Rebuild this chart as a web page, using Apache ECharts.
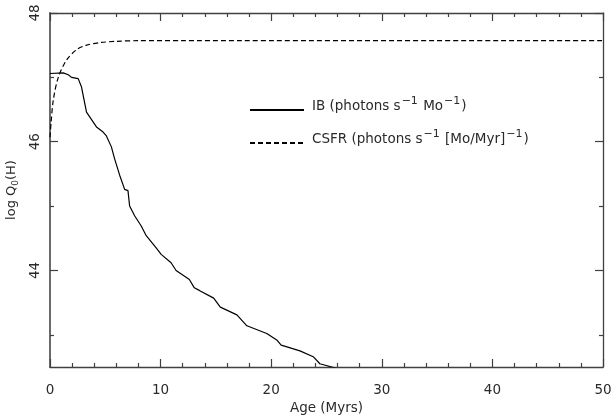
<!DOCTYPE html>
<html>
<head>
<meta charset="utf-8">
<script src="https://cdn.jsdelivr.net/npm/echarts@6/dist/echarts.min.js"></script>
<style>
html,body{margin:0;padding:0;background:#fff;}
#chart{width:613px;height:416px;}
</style>
</head>
<body>
<div id="chart"></div>
<script>
// Data
const ibAge = [0, 1.2, 1.65, 1.95, 2.55, 2.85, 3.3, 4.2, 4.8, 5.1, 5.55, 5.85, 6.3, 6.75, 7.05, 7.2, 7.65, 8.25, 8.7, 9.6, 10.05, 10.95, 11.4, 12.6, 13.05, 13.5, 14.8, 15.4, 16.9, 17.8, 19.6, 20.5, 20.9, 22.6, 23.8, 24.4, 25.9];
const ibLogQ = [47.06, 47.07, 47.04, 47.0, 46.98, 46.85, 46.46, 46.23, 46.15, 46.09, 45.92, 45.73, 45.48, 45.26, 45.24, 45.0, 44.85, 44.69, 44.54, 44.35, 44.25, 44.12, 44.0, 43.86, 43.73, 43.69, 43.57, 43.43, 43.31, 43.14, 43.02, 42.92, 42.84, 42.75, 42.66, 42.55, 42.48];
const csfrAge = [0, 0.1, 0.3, 0.75, 1.5, 2.4, 3.3, 4.5, 6, 8, 12, 50];
const csfrLogQ = [46.07, 46.3, 46.65, 47.0, 47.27, 47.43, 47.5, 47.54, 47.56, 47.57, 47.57, 47.57];
const yMajorTicks = [44, 46, 48];
const yMinorTicks = [43, 45, 47];
const seriesNames = ['IB', 'CSFR'];

const FONT = 'DejaVu Sans';
const axisColor = '#404040';
const textColor = '#2a2a2a';

function zip(a, b) { return a.map((v, i) => [v, b[i]]); }

const chart = echarts.init(document.getElementById('chart'));

function yAx(position, ticks, len, labels, showLine) {
  return {
    type: 'value', position: position, min: 42.5, max: 48,
    axisLine: { show: showLine, lineStyle: { color: position === 'left' ? '#6a6a6a' : axisColor, width: position === 'left' ? 2 : 1.3 } },
    axisTick: { show: true, inside: true, length: len, customValues: ticks, lineStyle: { color: axisColor, width: 1.2 } },
    axisLabel: labels ? { show: true, customValues: ticks, rotate: 90, margin: 8, fontFamily: FONT, fontSize: 13.5, color: textColor } : { show: false },
    splitLine: { show: false },
    name: labels ? '{n|log Q}{sub|0}{n|(H)}' : '',
    nameLocation: 'middle', nameGap: 28, nameRotate: 90,
    nameTextStyle: { rich: { n: { fontFamily: FONT, fontSize: 13, color: textColor }, sub: { fontFamily: FONT, fontSize: 9, color: textColor, padding: [8, 0, 0, 0] } } }
  };
}

function xAx(position, labels) {
  return {
    type: 'value', position: position, min: 0, max: 50, interval: 10,
    axisLine: { show: true, lineStyle: { color: axisColor, width: 1.3 } },
    axisTick: { show: true, inside: true, length: 8, lineStyle: { color: axisColor, width: 1.2 } },
    minorTick: { show: true, splitNumber: 5, length: 4, lineStyle: { color: axisColor, width: 1.2 } },
    axisLabel: labels ? { show: true, margin: 16, fontFamily: FONT, fontSize: 13.5, color: textColor } : { show: false },
    splitLine: { show: false }, minorSplitLine: { show: false },
    name: labels ? 'Age (Myrs)' : '', nameLocation: 'middle', nameGap: 33,
    nameTextStyle: { fontFamily: FONT, fontSize: 13.5, color: textColor }
  };
}

const option = {
  backgroundColor: '#fff',
  animation: false,
  grid: { left: 50, right: 10, top: 13, bottom: 49, containLabel: false, outerBoundsMode: 'none' },
  xAxis: [xAx('bottom', true), xAx('top', false)],
  yAxis: [
    yAx('left', yMajorTicks, 8, true, true),
    yAx('left', yMinorTicks, 4, false, false),
    yAx('right', yMajorTicks, 8, false, true),
    yAx('right', yMinorTicks, 4, false, false)
  ],
  legend: {
    orient: 'vertical', left: 249, top: 96, padding: 0,
    itemWidth: 54, itemHeight: 10, itemGap: 15,
    data: seriesNames,
    itemStyle: { opacity: 0 },
    formatter: function (name) {
      if (name === 'IB') return '{t|IB (photons s}{sup|−1}{t| Mo}{sup|−1}{t|)}';
      return '{t|CSFR (photons s}{sup|−1}{t| [Mo/Myr]}{sup|−1}{t|)}';
    },
    textStyle: {
      padding: [0, 0, 8, 3],
      rich: {
        t: { fontFamily: FONT, fontSize: 13.5, color: textColor },
        sup: { fontFamily: FONT, fontSize: 11, color: textColor, padding: [0, 1, 9, 1] }
      }
    }
  },
  series: [
    {
      name: seriesNames[0], type: 'line', xAxisIndex: 0, yAxisIndex: 0,
      data: zip(ibAge, ibLogQ), showSymbol: false, symbol: 'none',
      lineStyle: { color: '#000', width: 1.2, type: 'solid' }, itemStyle: { color: '#000' }, clip: true
    },
    {
      name: seriesNames[1], type: 'line', xAxisIndex: 0, yAxisIndex: 0,
      data: zip(csfrAge, csfrLogQ), showSymbol: false, symbol: 'none', smooth: 0.3,
      lineStyle: { color: '#000', width: 1.2, type: [5, 3] }, itemStyle: { color: '#000' }, clip: true
    }
  ]
};
chart.setOption(option);
</script>
</body>
</html>
